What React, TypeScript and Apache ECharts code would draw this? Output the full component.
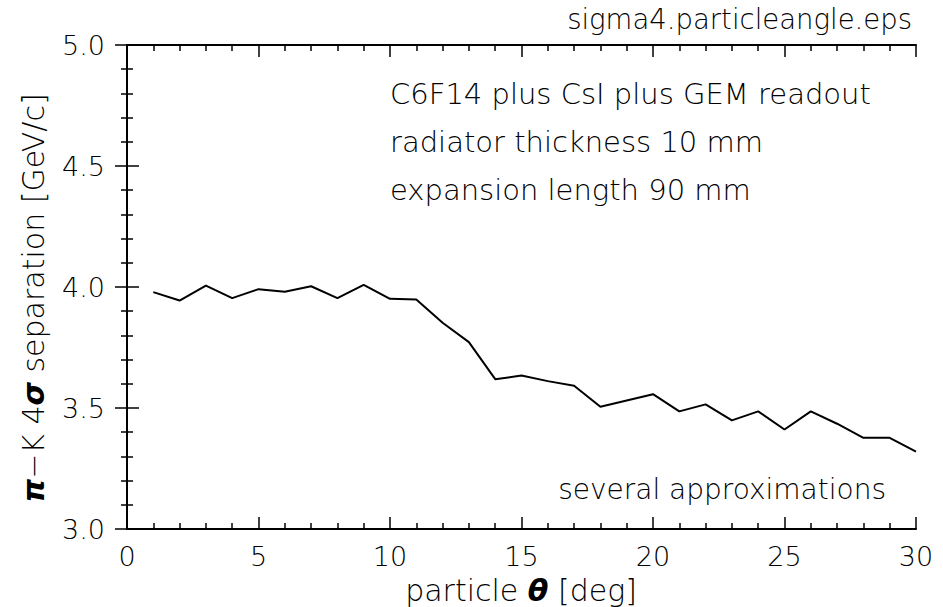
import React, { useEffect, useRef } from "react";
import * as echarts from "echarts";

const angles = [1, 2, 3, 4, 5, 6, 7, 8, 9, 10, 11, 12, 13, 14, 15, 16, 17, 18, 19, 20, 21, 22, 23, 24, 25, 26, 27, 28, 29, 30];
const separation = [3.979, 3.944, 4.006, 3.954, 3.991, 3.98, 4.003, 3.954, 4.009, 3.951, 3.948, 3.852, 3.772, 3.619, 3.634, 3.611, 3.592, 3.505, 3.531, 3.557, 3.486, 3.515, 3.449, 3.486, 3.411, 3.486, 3.435, 3.377, 3.377, 3.32];
const infoLines = ["C6F14 plus CsI plus GEM readout", "radiator thickness 10 mm", "expansion length 90 mm"];
const noteText = "several approximations";
const titleText = "sigma4.particleangle.eps";

const FONT = "DejaVu Sans";
const W = 200;

export default function App() {
  const ref = useRef<HTMLDivElement>(null);
  useEffect(() => {
    if (!ref.current) return;
    const chart = echarts.init(ref.current, undefined, { renderer: "svg" });
    const tickCommon = {
      axisLine: { show: true, lineStyle: { color: "#000", width: 2 } },
      axisTick: { show: true, inside: true, length: 12, lineStyle: { color: "#000", width: 1.5 } },
      minorTick: { show: true, splitNumber: 5, length: 6, lineStyle: { color: "#000", width: 1.5 } },
      splitLine: { show: false },
      minorSplitLine: { show: false },
    };
    const labelStyle = { color: "#000", fontFamily: FONT, fontSize: 27, fontWeight: W };
    const boldRich = { fontFamily: FONT, fontSize: 29, fontWeight: "bold", fontStyle: "italic", fill: "#000" };
    chart.setOption({
      animation: false,
      backgroundColor: "#fff",
      grid: { left: 127, right: 27, top: 45, bottom: 78, containLabel: false },
      xAxis: [
        {
          type: "value", min: 0, max: 30, interval: 5, position: "bottom",
          ...tickCommon,
          axisLabel: { ...labelStyle, margin: 14 },
        },
        {
          type: "value", min: 0, max: 30, interval: 5, position: "top",
          ...tickCommon,
          axisLabel: { show: false },
        },
      ],
      yAxis: [
        {
          type: "value", min: 3.0, max: 5.0, interval: 0.5, position: "left",
          ...tickCommon,
          axisLabel: { ...labelStyle, margin: 22, formatter: (v: number) => v.toFixed(1) },
        },
        {
          type: "value", min: 3.0, max: 5.0, interval: 0.5, position: "right",
          ...tickCommon,
          axisLabel: { show: false },
        },
      ],
      series: [
        {
          type: "line",
          xAxisIndex: 0,
          yAxisIndex: 0,
          data: angles.map((a, i) => [a, separation[i]]),
          showSymbol: false,
          symbol: "none",
          lineStyle: { color: "#000", width: 2 },
        },
      ],
      graphic: [
        {
          type: "text", right: 31, top: 5,
          style: { text: titleText, fill: "#000", fontFamily: FONT, fontSize: 27.5, fontWeight: W },
        },
        ...infoLines.map((t, i) => ({
          type: "text", x: 390, y: 94 + i * 48,
          style: { text: t, fill: "#000", fontFamily: FONT, fontSize: 29, fontWeight: W, align: "left", verticalAlign: "middle" },
        })),
        {
          type: "text", x: 886, y: 489,
          style: { text: noteText, fill: "#000", fontFamily: FONT, fontSize: 28, fontWeight: W, align: "right", verticalAlign: "middle" },
        },
        {
          type: "text", x: 521, y: 590,
          style: {
            text: "particle {b|θ} [deg]",
            fill: "#000", fontFamily: FONT, fontSize: 30, fontWeight: W, align: "center", verticalAlign: "middle",
            rich: { b: { ...boldRich, fontSize: 30 } },
          },
        },
        {
          type: "text", x: 33, y: 298, rotation: Math.PI / 2,
          style: {
            text: "{b|π}−K 4{b|σ} separation [GeV/c]",
            fill: "#000", fontFamily: FONT, fontSize: 30, fontWeight: W, align: "center", verticalAlign: "middle",
            rich: { b: { ...boldRich, fontSize: 30 } },
          },
        },
      ],
    });
    return () => chart.dispose();
  }, []);
  return <div ref={ref} style={{ width: 943, height: 607, position: "absolute", left: 0, top: 0 }} />;
}
